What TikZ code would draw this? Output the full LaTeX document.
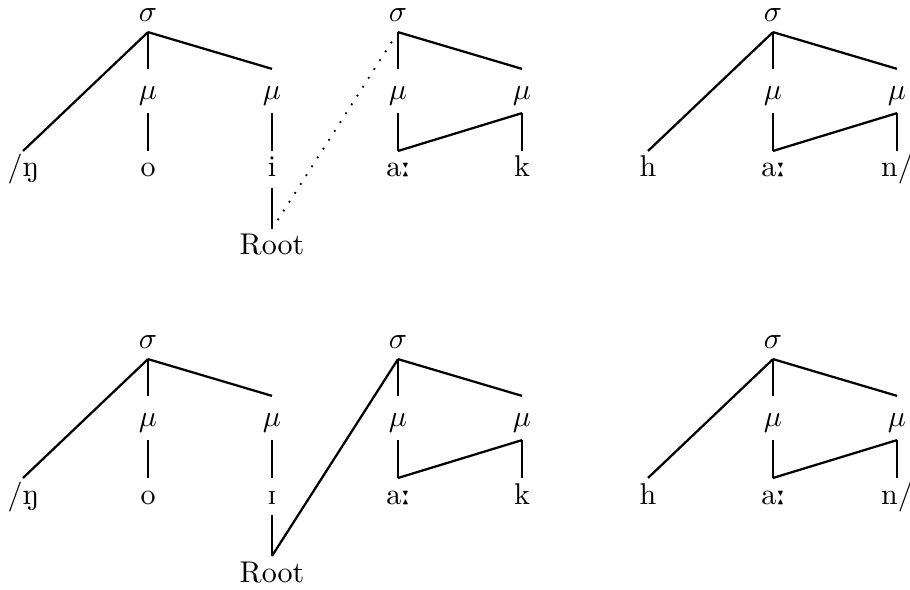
\documentclass[tikz,border=0pt]{standalone}
\usepackage{tipa}
\usetikzlibrary{positioning}

\begin{document}
\begin{tikzpicture}[x=0.3333pt, y=-0.3333pt, line width=0.75pt]
    \tikzstyle{seg} = [inner sep=0pt, anchor=base, text height=8.3pt, text depth=3.3pt]
    \tikzstyle{syl} = [seg, text height=8pt, text depth=3pt]
    \tikzstyle{mora} = [seg, text height=10pt, text depth=4pt]
    \tikzstyle{link} = [line width=0.6pt, dash pattern=on 0.6pt off 2.9pt, shorten <=3.5pt, shorten >=3.5pt]

    \useasboundingbox (0,0) rectangle (910,590);

    % upper row: dotted association, lower row: solid
    \foreach \r/\dy/\vow/\lk in {a/0/i/link, b/327/\textsci/solid} {
        \node [syl] (\r s1) at (148,{22+\dy}) {$\sigma$};
        \node [syl] (\r s2) at (398,{22+\dy}) {$\sigma$};
        \node [syl] (\r s3) at (773,{22+\dy}) {$\sigma$};
        \foreach \n/\x in {1/148, 2/272, 3/398, 4/522, 5/773, 6/897}
            \node [mora] (\r m\n) at (\x,{100+\dy}) {$\mu$};

        \node [seg] (\r ng) at (23,{177+\dy}) {/\textipa{N}};
        \node [seg] (\r o) at (148,{177+\dy}) {o};
        \node [seg] (\r i) at (272,{177+\dy}) {\vow};
        \node [seg] (\r a1) at (398,{177+\dy}) {a\textlengthmark};
        \node [seg] (\r k) at (522,{177+\dy}) {k};
        \node [seg] (\r h) at (648,{177+\dy}) {h};
        \node [seg] (\r a2) at (773,{177+\dy}) {a\textlengthmark};
        \node [seg] (\r n) at (897,{177+\dy}) {n/};
        \node [seg] (\r root) at (272,{255+\dy}) {Root};

        \draw (\r s1.south) -- (\r ng.north);
        \draw (\r s1.south) -- (\r m1.north);
        \draw (\r s1.south) -- (\r m2.north);
        \draw (\r m1.south) -- (\r o.north);
        \draw (\r m2.south) -- (\r i.north);
        \draw (\r i.south) -- (\r root.north);
        \draw [\lk] (\r root.north) -- (\r s2.south);

        \draw (\r s2.south) -- (\r m3.north);
        \draw (\r s2.south) -- (\r m4.north);
        \draw (\r m3.south) -- (\r a1.north);
        \draw (\r a1.north) -- (\r m4.south);
        \draw (\r m4.south) -- (\r k.north);

        \draw (\r s3.south) -- (\r h.north);
        \draw (\r s3.south) -- (\r m5.north);
        \draw (\r s3.south) -- (\r m6.north);
        \draw (\r m5.south) -- (\r a2.north);
        \draw (\r a2.north) -- (\r m6.south);
        \draw (\r m6.south) -- (\r n.north);
    }
\end{tikzpicture}
\end{document}
